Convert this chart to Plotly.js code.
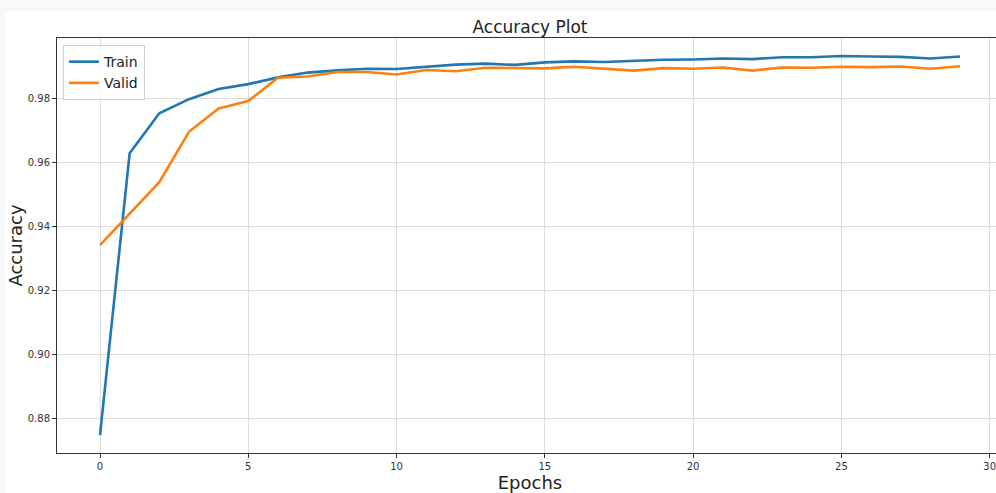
<!DOCTYPE html>
<html>
<head>
<meta charset="utf-8">
<script src="https://cdn.plot.ly/plotly-3.0.1.min.js"></script>
<style>
  html, body { margin: 0; padding: 0; background: #f6f8fa; overflow: hidden; width: 996px; height: 493px; }
  #chart { position: absolute; left: 5px; top: 11px; width: 1010px; height: 482px; }
</style>
</head>
<body>
<div id="chart"></div>
<script>
const epochs = [0,1,2,3,4,5,6,7,8,9,10,11,12,13,14,15,16,17,18,19,20,21,22,23,24,25,26,27,28,29];
const trainAcc = [0.8748,0.9628,0.9753,0.9797,0.9829,0.9844,0.9865,0.9880,0.9887,0.9892,
                  0.9891,0.9898,0.9905,0.9908,0.9904,0.9912,0.9915,0.9913,0.9917,0.9920,
                  0.9921,0.9924,0.9922,0.9928,0.9928,0.9932,0.9930,0.9929,0.9924,0.9930];
const validAcc = [0.9341,0.9440,0.9538,0.9695,0.9768,0.9791,0.9864,0.9868,0.9882,0.9882,
                  0.9874,0.9888,0.9884,0.9895,0.9895,0.9893,0.9898,0.9893,0.9886,0.9894,
                  0.9892,0.9896,0.9886,0.9896,0.9895,0.9898,0.9897,0.9899,0.9892,0.9900];
const seriesNames = ['Train', 'Valid'];
const xTicks = [0, 5, 10, 15, 20, 25, 30];
const yTicks = [0.88, 0.90, 0.92, 0.94, 0.96, 0.98];

const font = 'DejaVu Sans, sans-serif';
const traces = [
  { x: epochs, y: trainAcc, name: seriesNames[0], type: 'scatter', mode: 'lines',
    line: { color: '#1f77b4', width: 2.6 } },
  { x: epochs, y: validAcc, name: seriesNames[1], type: 'scatter', mode: 'lines',
    line: { color: '#ff7f0e', width: 2.6 } }
];

const layout = {
  width: 1010, height: 482,
  paper_bgcolor: '#ffffff', plot_bgcolor: '#ffffff',
  margin: { l: 52, r: 12, t: 27, b: 40 },
  font: { family: font, color: '#333333' },
  title: { text: 'Accuracy Plot', font: { family: font, size: 17, color: '#222222' },
           x: 0.5, xref: 'paper', xanchor: 'center', y: 1, yref: 'paper', yanchor: 'bottom', pad: { b: 5 } },
  xaxis: {
    range: [-1.45, 30.45], tickvals: xTicks, ticktext: xTicks.map(String),
    showgrid: true, gridcolor: '#dcdcdc', gridwidth: 1, zeroline: false,
    showline: true, linecolor: '#333333', linewidth: 1, mirror: true,
    ticks: 'outside', ticklen: 4, tickcolor: '#333333',
    tickfont: { family: font, size: 10, color: '#333333' },
    title: { text: 'Epochs', font: { family: font, size: 18, color: '#222222' }, standoff: 1 }
  },
  yaxis: {
    range: [0.8692, 0.9988], tickvals: yTicks, ticktext: yTicks.map(v => v.toFixed(2)),
    showgrid: true, gridcolor: '#dcdcdc', gridwidth: 1, zeroline: false,
    showline: true, linecolor: '#333333', linewidth: 1, mirror: true,
    ticks: 'outside', ticklen: 4, tickcolor: '#333333',
    tickfont: { family: font, size: 10, color: '#333333' },
    title: { text: 'Accuracy', font: { family: font, size: 18, color: '#222222' }, standoff: 4 }
  },
  showlegend: true,
  legend: {
    x: 0.0063, y: 0.983, xanchor: 'left', yanchor: 'top',
    bgcolor: 'rgba(255,255,255,0.85)', bordercolor: '#d0d0d0', borderwidth: 1,
    font: { family: font, size: 14, color: '#222222' },
    itemwidth: 30, tracegroupgap: 0
  }
};

Plotly.newPlot('chart', traces, layout, { displayModeBar: false, staticPlot: true });
</script>
</body>
</html>
